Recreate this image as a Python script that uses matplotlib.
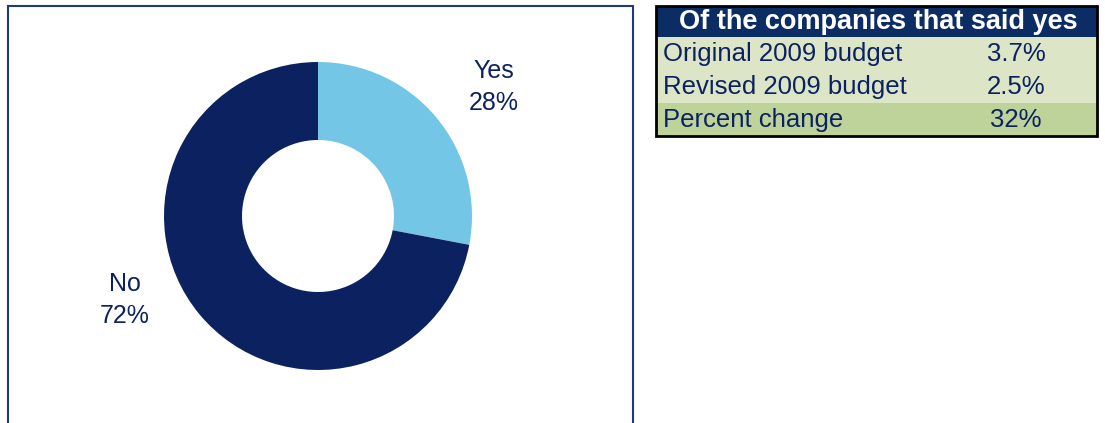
import matplotlib.pyplot as plt
from matplotlib.patches import Rectangle

plt.rcParams['font.family'] = ['Liberation Sans', 'DejaVu Sans']

# donut data
labels = ['Yes', 'No']
shares = [28, 72]
colors = ['#74C6E6', '#0C2260']

# table data
table_title = 'Of the companies that said yes'
row_names = ['Original 2009 budget', 'Revised 2009 budget', 'Percent change']
row_values = ['3.7%', '2.5%', '32%']
row_colors = ['#DCE6C7', '#DCE6C7', '#BDD399']

navy = '#0C2260'
W, H = 1105, 423

fig = plt.figure(figsize=(W / 100, H / 100), dpi=100)
ax = fig.add_axes([0, 0, 1, 1])

# donut (pie resets the limits, so set them afterwards)
ax.pie(shares, colors=colors, startangle=90, counterclock=False,
       center=(318, H - 216), radius=154,
       wedgeprops=dict(width=78, edgecolor='none'))
ax.set_xlim(0, W)
ax.set_ylim(0, H)
ax.set_aspect('equal')
ax.axis('off')

# frame around the donut panel
ax.add_patch(Rectangle((8, -5), 625, H - 6 + 5, fill=False,
                       edgecolor='#203A78', linewidth=1.5))

ax.text(494, H - 87, f'{labels[0]}\n{shares[0]}%', ha='center', va='center',
        fontsize=18, color=navy, linespacing=1.47)
ax.text(125, H - 300, f'{labels[1]}\n{shares[1]}%', ha='center', va='center',
        fontsize=18, color=navy, linespacing=1.47)

# table
x0, x1 = 656, 1097
top = 6
head_h = 31
row_h = 33
ax.add_patch(Rectangle((x0, H - top - head_h), x1 - x0, head_h,
                       facecolor='#0B2D64', edgecolor='none'))
ax.text((x0 + x1) / 2 + 2, H - top - head_h / 2, table_title, ha='center',
        va='center', fontsize=19.5, fontweight='bold', color='white')
for i, (name, val, c) in enumerate(zip(row_names, row_values, row_colors)):
    y = H - top - head_h - (i + 1) * row_h
    ax.add_patch(Rectangle((x0, y), x1 - x0, row_h, facecolor=c,
                           edgecolor='none'))
    ax.text(663, y + row_h / 2, name, ha='left', va='center',
            fontsize=18.5, color=navy)
    ax.text(1016, y + row_h / 2, val, ha='center', va='center',
            fontsize=18.5, color=navy)
ax.add_patch(Rectangle((x0, H - top - head_h - 3 * row_h), x1 - x0,
                       head_h + 3 * row_h, fill=False, edgecolor='black',
                       linewidth=2))

fig.savefig('out.png', dpi=100)
